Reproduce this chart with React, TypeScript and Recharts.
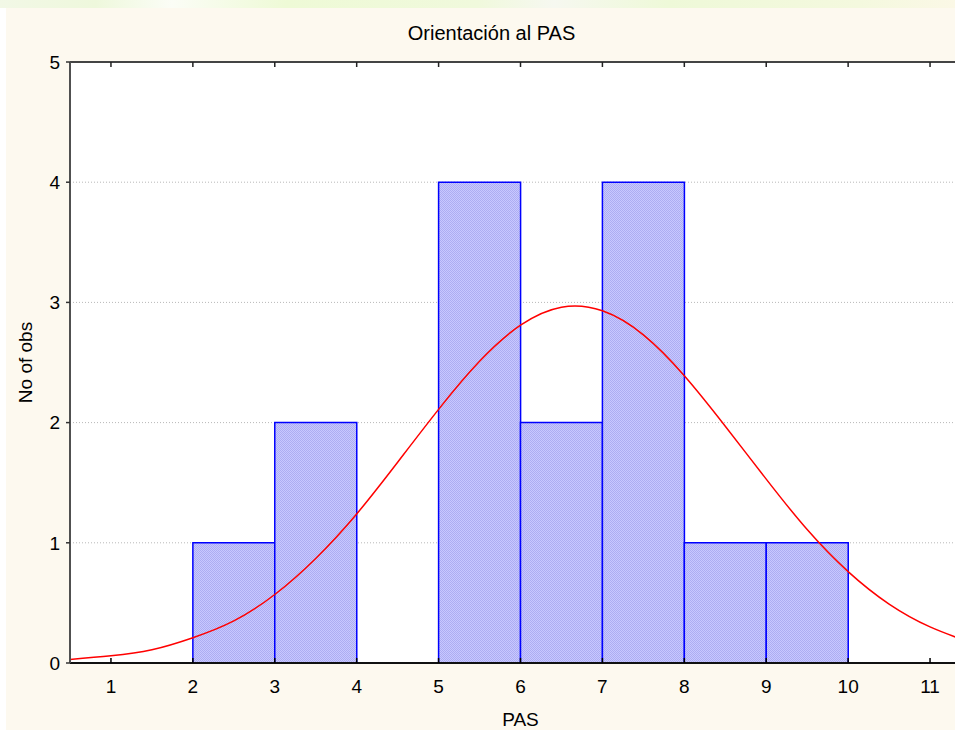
import React from 'react';
import {
  ComposedChart,
  Bar,
  Line,
  XAxis,
  YAxis,
  CartesianGrid,
} from 'recharts';

// Histogram bins (bin centre on the PAS axis) and observed counts
const binCenters = [1.5, 2.5, 3.5, 4.5, 5.5, 6.5, 7.5, 8.5, 9.5, 10.5];
const counts = [0, 1, 2, 0, 4, 2, 4, 1, 1, 0];

// Fitted normal curve
const curveX = [0.5, 1, 1.5, 2, 2.5, 3, 3.5, 4, 4.5, 5, 5.5, 6, 6.5, 7, 7.5, 8, 8.5, 9, 9.5, 10, 10.5, 11, 11.5];
const curveY = [0.03, 0.06, 0.11, 0.21, 0.35, 0.57, 0.87, 1.24, 1.67, 2.11, 2.51, 2.81, 2.96, 2.93, 2.73, 2.39, 1.97, 1.53, 1.11, 0.76, 0.49, 0.3, 0.17];

const xTicks = [1, 2, 3, 4, 5, 6, 7, 8, 9, 10, 11];
const yTicks = [0, 1, 2, 3, 4, 5];

const TITLE = 'Orientación al PAS';
const X_LABEL = 'PAS';
const Y_LABEL = 'No of obs';

const barData = binCenters.map((x, i) => ({ x, count: counts[i] }));
const curveData = curveX.map((x, i) => ({ x, y: curveY[i] }));

const FONT = '"Liberation Sans", Arial, sans-serif';
const TICK_GAP = 17;

const BottomTick = (props: any) => {
  const { x, y, payload } = props;
  return (
    <g>
      <line x1={x} x2={x} y1={y - TICK_GAP} y2={y - TICK_GAP - 5} stroke="#000" strokeWidth={1.5} />
      <text x={x} y={y} dy="0.71em" textAnchor="middle" fontSize={19} fill="#000" fontFamily={FONT}>
        {payload.value}
      </text>
    </g>
  );
};

const TopTick = (props: any) => {
  const { x, y } = props;
  return <line x1={x} x2={x} y1={y} y2={y + 5} stroke="#222" strokeWidth={1.5} />;
};

export default function App() {
  return (
    <div
      style={{
        position: 'absolute',
        left: 0,
        top: 0,
        width: 955,
        height: 731,
        overflow: 'hidden',
        background: '#ffffff',
      }}
    >
      <div
        style={{
          position: 'absolute',
          left: 0,
          top: 0,
          width: 955,
          height: 8,
          background:
            'linear-gradient(90deg, #f2f8e6 0%, #eef8dc 10%, #fbfdf6 18%, #eefad6 30%, #f0f9dc 50%, #f6f8f0 58%, #eef9d8 70%, #f4f9de 90%, #fbf8e6 100%)',
        }}
      />
      <div
        style={{
          position: 'absolute',
          left: 6,
          top: 8,
          width: 949,
          height: 722,
          background: '#fdf9ef',
        }}
      />
      <div
        style={{
          position: 'absolute',
          left: 0,
          top: 21,
          width: 983,
          textAlign: 'center',
          fontFamily: FONT,
          fontSize: 20,
          color: '#000',
          lineHeight: '24px',
        }}
      >
        {TITLE}
      </div>
      <div style={{ position: 'absolute', left: 0, top: 0 }}>
        <ComposedChart
          width={975}
          height={731}
          data={barData}
          margin={{ top: 61, right: 4, bottom: 8, left: 0 }}
          barCategoryGap={0}
          barGap={0}
        >
          <defs>
            <pattern id="hatch" width="2" height="2" patternUnits="userSpaceOnUse">
              <rect width="2" height="2" fill="#c8c8ff" />
              <rect x="0" y="0" width="1" height="1" fill="#adadf2" />
              <rect x="1" y="1" width="1" height="1" fill="#adadf2" />
            </pattern>
          </defs>
          <CartesianGrid
            horizontal
            vertical={false}
            stroke="#b8b8b8"
            strokeDasharray="1 2"
            fill="#ffffff"
          />
          <XAxis
            dataKey="x"
            type="number"
            domain={[0.5, 11.5]}
            ticks={xTicks}
            allowDataOverflow
            height={60}
            tickSize={0}
            tickMargin={TICK_GAP}
            tickLine={false}
            axisLine={{ stroke: '#111', strokeWidth: 2 }}
            tick={<BottomTick />}
            interval={0}
            label={{
              value: X_LABEL,
              position: 'bottom',
              offset: -10,
              fontSize: 19,
              fill: '#000',
              fontFamily: FONT,
            }}
          />
          <XAxis
            xAxisId="top"
            dataKey="x"
            type="number"
            orientation="top"
            domain={[0.5, 11.5]}
            ticks={xTicks}
            allowDataOverflow
            height={1}
            tickSize={0}
            tickMargin={0}
            tickLine={false}
            axisLine={{ stroke: '#444', strokeWidth: 2 }}
            tick={<TopTick />}
            interval={0}
          />
          <YAxis
            type="number"
            domain={[0, 5]}
            ticks={yTicks}
            width={70}
            tickSize={4}
            tickMargin={6}
            tickLine={{ stroke: '#333', strokeWidth: 1.5 }}
            axisLine={{ stroke: '#505050', strokeWidth: 2 }}
            tick={{ fontSize: 19, fill: '#000', fontFamily: FONT }}
            interval={0}
            label={{
              value: Y_LABEL,
              angle: -90,
              position: 'center',
              dx: -10,
              fontSize: 19,
              fill: '#000',
              fontFamily: FONT,
            }}
          />
          <Bar
            dataKey="count"
            fill="url(#hatch)"
            stroke="#0000ff"
            strokeWidth={1.5}
            isAnimationActive={false}
          />
          <Line
            xAxisId="top"
            data={curveData}
            dataKey="y"
            type="natural"
            stroke="#ff0000"
            strokeWidth={1.5}
            dot={false}
            activeDot={false}
            isAnimationActive={false}
          />
        </ComposedChart>
      </div>
    </div>
  );
}
